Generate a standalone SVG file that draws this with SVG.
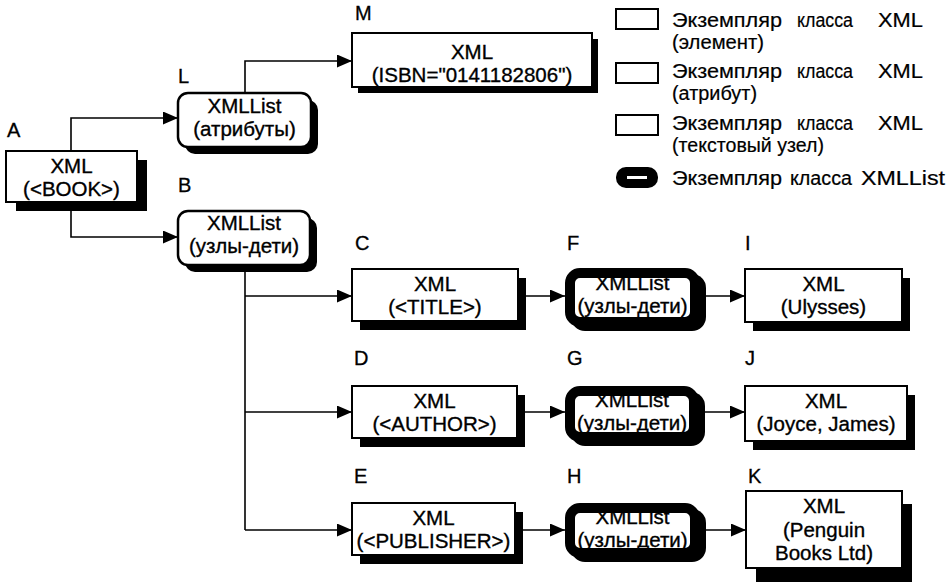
<svg xmlns="http://www.w3.org/2000/svg" width="952" height="585" viewBox="0 0 952 585">
<style>
.box{fill:#fff;stroke:#000;stroke-width:2}
.sh{fill:#000}
.list{fill:#fff;stroke:#000;stroke-width:2.5}
.tlist{fill:#fff;stroke:#000;stroke-width:10}
text{font-family:"Liberation Sans",Arial,sans-serif;fill:#000}
.t{font-size:20.5px;text-anchor:middle;stroke:#000;stroke-width:0.35}
.lbl{font-size:20px;stroke:#000;stroke-width:0.3}
.lg{font-size:19.5px;stroke:#000;stroke-width:0.2}
.c{fill:none;stroke:#000;stroke-width:1.6;marker-end:url(#ah)}
</style>
<defs>
<marker id="ah" markerUnits="userSpaceOnUse" markerWidth="15" markerHeight="13" refX="15" refY="6.5" orient="auto">
<path d="M0,0 L15,6.5 L0,13 z" fill="#000"/>
</marker>
</defs>
<rect width="952" height="585" fill="#fff"/>

<g id="connectors">
<path class="c" d="M71,151 V118 H178"/>
<path class="c" d="M71,202 V237 H178"/>
<path class="c" d="M245,93 V61 H352"/>
<path fill="none" stroke="#000" stroke-width="1.6" d="M245,265 V530"/>
<path class="c" d="M245,296 H352"/>
<path class="c" d="M245,412 H352"/>
<path class="c" d="M245,530 H352"/>
<path class="c" d="M518,296 H565"/>
<path class="c" d="M700,296 H745"/>
<path class="c" d="M517,412 H565"/>
<path class="c" d="M699,412 H745"/>
<path class="c" d="M515,530 H565"/>
<path class="c" d="M700,530 H746"/>
</g>

<g id="A">
<text class="lbl" x="7" y="137">A</text>
<rect class="sh" x="16" y="160" width="131" height="51"/>
<rect class="box" x="6" y="151" width="131" height="51"/>
<text class="t" x="71.5" y="173">XML<tspan x="71.5" dy="23">(&lt;BOOK&gt;)</tspan></text>
</g>

<g id="L">
<text class="lbl" x="178" y="83">L</text>
<rect class="sh" x="185" y="100" width="133" height="54" rx="10"/>
<rect class="list" x="178" y="93" width="133" height="54" rx="10"/>
<text class="t" x="244.5" y="113">XMLList<tspan x="244.5" dy="23">(атрибуты)</tspan></text>
</g>

<g id="B">
<text class="lbl" x="178" y="192">B</text>
<rect class="sh" x="185" y="218" width="132" height="54" rx="10"/>
<rect class="list" x="178" y="211" width="132" height="54" rx="10"/>
<text class="t" x="244" y="230">XMLList<tspan x="244" dy="23">(узлы-дети)</tspan></text>
</g>

<g id="M">
<text class="lbl" x="355" y="20">M</text>
<rect class="sh" x="358" y="39" width="240" height="54"/>
<rect class="box" x="352" y="33" width="240" height="54"/>
<text class="t" x="472" y="59">XML<tspan x="472" dy="23">(ISBN="0141182806")</tspan></text>
</g>

<g id="C">
<text class="lbl" x="355" y="250">C</text>
<rect class="sh" x="360" y="278" width="166" height="52"/>
<rect class="box" x="352" y="269" width="166" height="52"/>
<text class="t" x="435" y="291">XML<tspan x="435" dy="23">(&lt;TITLE&gt;)</tspan></text>
</g>

<g id="D">
<text class="lbl" x="354" y="365">D</text>
<rect class="sh" x="360" y="395" width="165" height="52"/>
<rect class="box" x="352" y="386" width="165" height="52"/>
<text class="t" x="434.5" y="408">XML<tspan x="434.5" dy="23">(&lt;AUTHOR&gt;)</tspan></text>
</g>

<g id="E">
<text class="lbl" x="354" y="483">E</text>
<rect class="sh" x="360" y="512" width="163" height="52"/>
<rect class="box" x="352" y="503" width="163" height="52"/>
<text class="t" x="433.5" y="525">XML<tspan x="433.5" dy="23">(&lt;PUBLISHER&gt;)</tspan></text>
</g>

<g id="F">
<text class="lbl" x="567" y="250">F</text>
<rect class="sh" x="571" y="274" width="135" height="57" rx="14"/>
<rect class="tlist" x="570" y="273" width="125" height="49" rx="10"/>
<text class="t" x="632.5" y="290">XMLList<tspan x="632.5" dy="23">(узлы-дети)</tspan></text>
</g>

<g id="G">
<text class="lbl" x="567" y="365">G</text>
<rect class="sh" x="571" y="392" width="134" height="54" rx="14"/>
<rect class="tlist" x="570" y="391" width="124" height="46" rx="10"/>
<text class="t" x="632" y="407">XMLList<tspan x="632" dy="23">(узлы-дети)</tspan></text>
</g>

<g id="H">
<text class="lbl" x="567" y="483">H</text>
<rect class="sh" x="571" y="509" width="135" height="53" rx="14"/>
<rect class="tlist" x="570" y="508" width="125" height="45" rx="10"/>
<text class="t" x="632.5" y="524">XMLList<tspan x="632.5" dy="23">(узлы-дети)</tspan></text>
</g>

<g id="I">
<text class="lbl" x="745" y="250">I</text>
<rect class="sh" x="753" y="278" width="157" height="53"/>
<rect class="box" x="745" y="269" width="157" height="53"/>
<text class="t" x="823.5" y="291">XML<tspan x="823.5" dy="23">(Ulysses)</tspan></text>
</g>

<g id="J">
<text class="lbl" x="745" y="365">J</text>
<rect class="sh" x="753" y="395" width="162" height="55"/>
<rect class="box" x="745" y="386" width="162" height="55"/>
<text class="t" x="826" y="408">XML<tspan x="826" dy="23">(Joyce, James)</tspan></text>
</g>

<g id="K">
<text class="lbl" x="748" y="483">K</text>
<rect class="sh" x="756" y="504" width="156" height="78"/>
<rect class="box" x="746" y="491" width="156" height="77"/>
<text class="t" x="824" y="513">XML<tspan x="824" dy="23.5">(Penguin</tspan><tspan x="824" dy="23.5">Books Ltd)</tspan></text>
</g>

<g id="legend">
<rect class="box" x="616" y="9" width="42" height="20" stroke-width="1.5"/>
<text class="lg" y="27"><tspan x="672" textLength="110" lengthAdjust="spacingAndGlyphs">Экземпляр</tspan><tspan x="797" textLength="56" lengthAdjust="spacingAndGlyphs">класса</tspan><tspan x="878" textLength="45" lengthAdjust="spacingAndGlyphs">XML</tspan><tspan x="672" dy="22" textLength="92" lengthAdjust="spacingAndGlyphs">(элемент)</tspan></text>
<rect class="box" x="616" y="63" width="42" height="20" stroke-width="1.5"/>
<text class="lg" y="78"><tspan x="672" textLength="110" lengthAdjust="spacingAndGlyphs">Экземпляр</tspan><tspan x="797" textLength="56" lengthAdjust="spacingAndGlyphs">класса</tspan><tspan x="878" textLength="45" lengthAdjust="spacingAndGlyphs">XML</tspan><tspan x="672" dy="22" textLength="85" lengthAdjust="spacingAndGlyphs">(атрибут)</tspan></text>
<rect class="box" x="616" y="115" width="42" height="20" stroke-width="1.5"/>
<text class="lg" y="130"><tspan x="672" textLength="110" lengthAdjust="spacingAndGlyphs">Экземпляр</tspan><tspan x="797" textLength="56" lengthAdjust="spacingAndGlyphs">класса</tspan><tspan x="878" textLength="45" lengthAdjust="spacingAndGlyphs">XML</tspan><tspan x="672" dy="22" textLength="152" lengthAdjust="spacingAndGlyphs">(текстовый узел)</tspan></text>
<rect x="616" y="167" width="42" height="21" rx="10" fill="#000"/>
<rect x="627" y="176" width="20" height="3" fill="#fff"/>
<text class="lg" y="185"><tspan x="672" textLength="110" lengthAdjust="spacingAndGlyphs">Экземпляр</tspan><tspan x="790" textLength="62" lengthAdjust="spacingAndGlyphs">класса</tspan><tspan x="861" textLength="84" lengthAdjust="spacingAndGlyphs">XMLList</tspan></text>
</g>
</svg>
